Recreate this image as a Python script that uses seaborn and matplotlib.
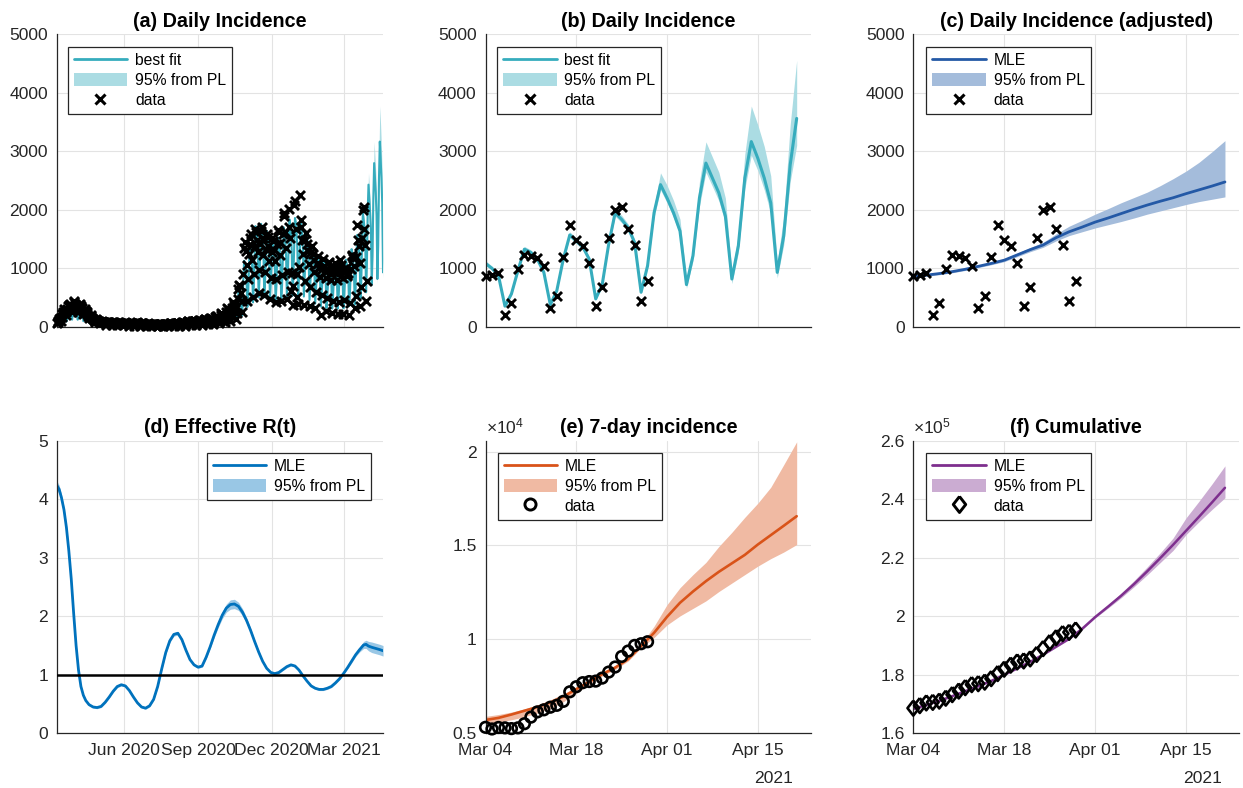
import numpy as np
import pandas as pd
import matplotlib
matplotlib.use("Agg")
import matplotlib.pyplot as plt
from matplotlib.lines import Line2D
from matplotlib.patches import Patch
from matplotlib.ticker import FuncFormatter
import seaborn as sns

# ------------------------------------------------------------------
# Daily reported cases, 10 Mar 2020 - 1 Mar 2021 (one row per week, Tue..Mon)
cases_weeks = [
    [60, 80, 110, 130, 150, 100, 170],
    [220, 260, 300, 280, 250, 200, 310],
    [350, 380, 400, 360, 320, 260, 330],
    [420, 440, 400, 380, 330, 250, 300],
    [380, 400, 360, 320, 280, 220, 240],
    [300, 280, 250, 220, 180, 150, 170],
    [200, 180, 160, 140, 120, 90, 110],
    [130, 120, 110, 100, 90, 60, 80],
    [100, 90, 85, 80, 70, 40, 60],
    [90, 85, 80, 75, 65, 35, 55],
    [85, 80, 75, 70, 60, 30, 50],
    [80, 75, 70, 70, 55, 30, 45],
    [75, 80, 70, 65, 55, 25, 45],
    [70, 75, 70, 60, 50, 25, 40],
    [70, 80, 75, 60, 50, 20, 40],
    [65, 70, 65, 55, 45, 20, 35],
    [55, 60, 55, 50, 40, 15, 30],
    [50, 55, 50, 45, 35, 10, 25],
    [45, 50, 50, 45, 35, 10, 25],
    [50, 55, 55, 50, 40, 15, 30],
    [60, 65, 60, 55, 45, 15, 35],
    [65, 75, 70, 65, 55, 20, 40],
    [75, 85, 80, 75, 60, 25, 45],
    [85, 100, 95, 85, 70, 30, 55],
    [95, 110, 105, 95, 80, 35, 60],
    [110, 125, 120, 105, 90, 40, 70],
    [120, 140, 135, 120, 100, 45, 80],
    [140, 160, 150, 135, 115, 50, 90],
    [170, 190, 180, 160, 140, 60, 110],
    [210, 240, 230, 200, 170, 80, 140],
    [260, 320, 300, 270, 220, 100, 180],
    [330, 420, 400, 360, 300, 140, 240],
    [480, 640, 720, 700, 580, 260, 450],
    [900, 1350, 1450, 1300, 1050, 450, 820],
    [1250, 1520, 1580, 1400, 1150, 520, 900],
    [1380, 1680, 1620, 1480, 1280, 580, 980],
    [1420, 1640, 1700, 1520, 1230, 540, 940],
    [1330, 1580, 1530, 1380, 1130, 480, 830],
    [1280, 1520, 1460, 1310, 1120, 420, 820],
    [1420, 1660, 1620, 1440, 1230, 440, 880],
    [1580, 1900, 1950, 1620, 1340, 480, 940],
    [1700, 2020, 1520, 620, 920, 380, 700],
    [2080, 2150, 1680, 520, 900, 400, 1030],
    [2250, 1820, 1700, 1480, 1250, 380, 780],
    [1480, 1600, 1420, 1300, 1080, 360, 690],
    [1280, 1380, 1240, 1140, 940, 320, 600],
    [1080, 1220, 1090, 1000, 860, 200, 540],
    [990, 1160, 1040, 950, 840, 270, 490],
    [980, 1110, 1030, 960, 800, 240, 440],
    [940, 1100, 1010, 940, 810, 230, 420],
    [960, 1150, 1060, 980, 830, 220, 460],
]
cases_mar_2_3 = [950, 1010]
# Daily reported cases, 4 - 29 Mar 2021 (calibration window)
cases_recent = [864, 893, 915, 198, 418, 994, 1226, 1215, 1169, 1034, 328, 525,
                1198, 1734, 1492, 1384, 1096, 350, 684, 1525, 2000, 2056, 1672,
                1395, 441, 785]

# Best-fit daily incidence, 10 Mar 2020 - 1 Mar 2021 (Tue..Mon rows)
fit_weeks = [
    [70, 95, 100, 100, 90, 40, 75],
    [170, 250, 260, 255, 215, 95, 160],
    [290, 400, 390, 360, 300, 125, 200],
    [320, 440, 420, 380, 300, 125, 195],
    [290, 390, 365, 325, 255, 100, 160],
    [225, 300, 275, 240, 185, 72, 112],
    [155, 205, 185, 160, 125, 48, 75],
    [105, 140, 128, 112, 88, 34, 54],
    [80, 105, 98, 88, 70, 28, 44],
    [70, 92, 86, 78, 62, 25, 39],
    [64, 85, 80, 72, 57, 23, 36],
    [60, 80, 76, 69, 55, 22, 35],
    [58, 78, 74, 67, 54, 22, 34],
    [57, 77, 73, 66, 53, 21, 34],
    [56, 76, 72, 65, 52, 21, 33],
    [53, 72, 68, 62, 50, 20, 31],
    [48, 66, 62, 56, 45, 18, 29],
    [44, 60, 57, 52, 41, 17, 27],
    [42, 58, 55, 50, 40, 16, 26],
    [44, 60, 57, 52, 41, 17, 27],
    [48, 65, 62, 56, 45, 18, 29],
    [54, 73, 70, 63, 51, 21, 33],
    [62, 84, 80, 73, 58, 24, 38],
    [72, 97, 93, 85, 68, 28, 44],
    [83, 112, 107, 98, 78, 32, 51],
    [95, 128, 122, 112, 89, 37, 58],
    [108, 146, 140, 128, 102, 42, 66],
    [124, 168, 161, 147, 117, 48, 76],
    [146, 198, 190, 173, 138, 57, 90],
    [176, 238, 228, 208, 166, 68, 108],
    [216, 292, 280, 256, 204, 84, 133],
    [275, 372, 357, 326, 260, 107, 169],
    [390, 600, 590, 540, 440, 190, 330],
    [780, 1130, 1100, 1010, 820, 340, 560],
    [1020, 1420, 1380, 1260, 1020, 420, 680],
    [1230, 1720, 1660, 1520, 1230, 505, 800],
    [1260, 1760, 1690, 1540, 1240, 505, 800],
    [1180, 1640, 1570, 1430, 1150, 470, 740],
    [1080, 1500, 1440, 1310, 1060, 430, 690],
    [1100, 1530, 1470, 1340, 1080, 445, 710],
    [1220, 1700, 1630, 1490, 1200, 495, 790],
    [1320, 1840, 1770, 1610, 1300, 535, 850],
    [1340, 1860, 1790, 1630, 1310, 540, 860],
    [1300, 1820, 1740, 1590, 1270, 520, 830],
    [1160, 1620, 1550, 1410, 1130, 460, 740],
    [1010, 1400, 1340, 1220, 980, 400, 640],
    [880, 1220, 1170, 1070, 860, 350, 560],
    [800, 1120, 1070, 980, 790, 325, 515],
    [780, 1090, 1040, 950, 765, 315, 500],
    [770, 1080, 1030, 940, 760, 312, 495],
    [790, 1110, 1060, 970, 780, 320, 510],
]
fit_mar_2_3 = [820, 1150]
# Best-fit daily incidence with 95% profile-likelihood band, 4 Mar - 21 Apr 2021
fit_recent = [1085, 1000, 876, 356, 565, 960, 1328, 1271, 1158, 932, 379, 621,
              1158, 1571, 1469, 1367, 1158, 480, 723, 1412, 1949, 1836, 1695,
              1441, 593, 1045, 1949, 2429, 2203, 1949, 1638, 723, 1215, 2203,
              2797, 2542, 2288, 1893, 819, 1384, 2542, 3164, 2881, 2542, 2118,
              932, 1554, 2768, 3559]
fit_recent_lo = [1050, 970, 850, 340, 545, 930, 1290, 1235, 1125, 905, 365, 600,
                 1120, 1525, 1425, 1325, 1120, 462, 700, 1370, 1890, 1780, 1640,
                 1395, 572, 1010, 1870, 2340, 2120, 1870, 1570, 660, 1130, 2060,
                 2640, 2400, 2150, 1770, 740, 1270, 2360, 2930, 2670, 2340, 1940,
                 840, 1400, 2480, 3100]
fit_recent_hi = [1130, 1040, 910, 375, 590, 995, 1375, 1315, 1200, 965, 395, 645,
                 1200, 1625, 1520, 1415, 1200, 500, 750, 1460, 2020, 1905, 1760,
                 1500, 618, 1090, 2060, 2630, 2420, 2160, 1840, 800, 1350, 2480,
                 3160, 2900, 2640, 2200, 930, 1590, 2950, 3770, 3450, 3080, 2580,
                 1110, 1880, 3450, 4550]

# Weekday-adjusted daily incidence (every second day from 4 Mar 2021)
adj_fit = [865, 885, 912, 945, 985, 1035, 1085, 1140, 1230, 1320, 1400, 1525,
           1625, 1705, 1790, 1860, 1935, 2010, 2080, 2145, 2205, 2275, 2340,
           2405, 2475]
adj_lo = [845, 865, 892, 925, 965, 1013, 1062, 1115, 1200, 1285, 1360, 1470,
          1560, 1625, 1690, 1745, 1800, 1860, 1925, 1980, 2035, 2090, 2140,
          2180, 2220]
adj_hi = [885, 905, 932, 965, 1005, 1057, 1108, 1165, 1260, 1355, 1445, 1590,
          1720, 1820, 1925, 2020, 2120, 2210, 2300, 2410, 2530, 2660, 2810,
          2990, 3180]

# Effective reproduction number: days after 10 Mar 2020, MLE and half-width of band
rt_day = [0, 3, 6, 9, 12, 15, 18, 21, 24, 27, 30, 33, 36, 40, 45, 50, 55, 60,
          65, 70, 75, 80, 85, 90, 95, 100, 105, 110, 115, 120, 125, 130, 135,
          140, 145, 150, 155, 160, 165, 170, 175, 180, 185, 190, 195, 200, 205,
          210, 215, 220, 225, 230, 235, 240, 245, 250, 255, 260, 265, 270, 275,
          280, 285, 290, 295, 300, 305, 310, 315, 320, 325, 330, 335, 340, 345,
          350, 355, 360, 365, 370, 375, 380, 383, 386, 390, 395, 400, 404]
rt_val = [4.24, 4.17, 4.02, 3.82, 3.52, 3.12, 2.64, 2.05, 1.50, 1.08, 0.80,
          0.65, 0.56, 0.49, 0.45, 0.44, 0.46, 0.53, 0.62, 0.72, 0.80, 0.83,
          0.81, 0.73, 0.62, 0.52, 0.45, 0.43, 0.47, 0.58, 0.80, 1.10, 1.38,
          1.58, 1.69, 1.71, 1.60, 1.42, 1.26, 1.17, 1.13, 1.15, 1.30, 1.48,
          1.68, 1.86, 2.02, 2.14, 2.20, 2.21, 2.17, 2.07, 1.93, 1.76, 1.57,
          1.39, 1.23, 1.11, 1.04, 1.02, 1.04, 1.09, 1.14, 1.17, 1.15, 1.08,
          0.98, 0.89, 0.81, 0.77, 0.75, 0.75, 0.77, 0.80, 0.86, 0.93, 1.02,
          1.12, 1.23, 1.34, 1.43, 1.51, 1.52, 1.49, 1.47, 1.45, 1.43, 1.41]
rt_hw = [0.08, 0.07, 0.06, 0.05, 0.05, 0.05, 0.05, 0.05, 0.04, 0.03, 0.02,
         0.02, 0.02, 0.02, 0.02, 0.02, 0.02, 0.02, 0.02, 0.02, 0.02, 0.02,
         0.02, 0.02, 0.02, 0.02, 0.02, 0.02, 0.02, 0.02, 0.02, 0.02, 0.03,
         0.03, 0.03, 0.03, 0.03, 0.03, 0.02, 0.02, 0.02, 0.02, 0.03, 0.03,
         0.04, 0.05, 0.06, 0.07, 0.08, 0.08, 0.07, 0.06, 0.05, 0.04, 0.03,
         0.03, 0.02, 0.02, 0.02, 0.02, 0.02, 0.02, 0.02, 0.02, 0.02, 0.02,
         0.02, 0.02, 0.02, 0.02, 0.02, 0.02, 0.02, 0.02, 0.02, 0.02, 0.02,
         0.02, 0.03, 0.03, 0.04, 0.06, 0.07, 0.08, 0.09, 0.09, 0.09, 0.09]

# 7-day incidence: data (4 - 29 Mar 2021) and MLE / band every second day
inc7_data = [5319, 5230, 5310, 5290, 5250, 5290, 5510, 5860, 6140, 6250, 6390,
             6490, 6700, 7210, 7480, 7695, 7755, 7780, 7940, 8260, 8530, 9090,
             9380, 9680, 9770, 9875]
inc7_fit = [5710, 5820, 6000, 6200, 6400, 6640, 6950, 7350, 7750, 8150, 8500,
            8950, 9650, 10350, 11200, 11950, 12550, 13100, 13600, 14050, 14500,
            15050, 15550, 16050, 16560]
inc7_lo = [5500, 5600, 5720, 5880, 6080, 6320, 6680, 7150, 7600, 8050, 8400,
           8850, 9550, 10100, 10770, 11250, 11650, 12050, 12550, 13000, 13450,
           13900, 14300, 14650, 15050]
inc7_hi = [5900, 6000, 6130, 6300, 6500, 6780, 7100, 7450, 7850, 8250, 8600,
           9050, 9750, 10700, 11850, 12750, 13450, 14100, 14950, 15700, 16500,
           17250, 18100, 19300, 20520]

# Cumulative cases: data (4 - 29 Mar 2021) and MLE / band every second day
cum_data = [168600, 169490, 170410, 170610, 171030, 172020, 173250, 174460,
            175630, 176660, 176990, 177520, 178720, 180450, 181940, 183330,
            184420, 184770, 185460, 186980, 188980, 191040, 192710, 194100,
            194540, 195330]
cum_fit = [168300, 169700, 171100, 172700, 174400, 176100, 177900, 180000,
           182200, 184400, 186900, 189600, 192300, 195700, 199700, 203300,
           207000, 211000, 215300, 219800, 224400, 229200, 234000, 238900,
           243900]
cum_lo = [168000, 169400, 170800, 172400, 174100, 175800, 177600, 179700,
          181900, 184100, 186600, 189300, 192000, 195400, 199400, 202800,
          206300, 210100, 214100, 218300, 222500, 227900, 232300, 236500,
          240500]
cum_hi = [168600, 170000, 171400, 173000, 174700, 176400, 178200, 180300,
          182500, 184700, 187200, 189900, 192600, 196000, 200100, 203900,
          207900, 212200, 216800, 221600, 226700, 233600, 239300, 245200,
          251400]

long_tick_dates = ["2020-06-01", "2020-09-01", "2020-12-01", "2021-03-01"]
long_tick_labels = ["Jun 2020", "Sep 2020", "Dec 2020", "Mar 2021"]
short_tick_dates = ["2021-03-04", "2021-03-18", "2021-04-01", "2021-04-15"]
short_tick_labels = ["Mar 04", "Mar 18", "Apr 01", "Apr 15"]

# ------------------------------------------------------------------
sns.set_theme(style="white")
plt.rcParams["font.family"] = ["Liberation Sans", "DejaVu Sans"]
plt.rcParams["mathtext.fontset"] = "custom"
plt.rcParams["mathtext.rm"] = "Liberation Sans"
plt.rcParams["mathtext.it"] = "Liberation Sans:italic"
plt.rcParams["mathtext.bf"] = "Liberation Sans:bold"

TEAL, TEAL_BAND = "#36ACBD", "#ABDCE3"
NAVY, NAVY_BAND = "#2459A6", "#A4BCDB"
BLUE, BLUE_BAND = "#0072BD", "#99C7E5"
ORANGE, ORANGE_BAND = "#D95319", "#F0BAA3"
PURPLE, PURPLE_BAND = "#7E2F8E", "#CBACD2"
INK = "#262626"
TICK_FS, TITLE_FS, LEG_FS = 12.6, 14.2, 11.3

cases_all = np.concatenate([np.ravel(cases_weeks), cases_mar_2_3, cases_recent])
fit_all = np.concatenate([np.ravel(fit_weeks), fit_mar_2_3, fit_recent])
t0 = pd.Timestamp("2020-03-10")
case_dates = pd.date_range(t0, periods=len(cases_all), freq="D")
fit_dates = pd.date_range(t0, periods=len(fit_all), freq="D")
recent_dates = pd.date_range("2021-03-04", periods=len(cases_recent), freq="D")
fc_dates = pd.date_range("2021-03-04", periods=len(fit_recent), freq="D")
even_dates = pd.date_range("2021-03-04", periods=len(adj_fit), freq="2D")
rt_dates = t0 + pd.to_timedelta(rt_day, unit="D")
rt_val = np.asarray(rt_val)
rt_hw = np.asarray(rt_hw)

long_xlim = (pd.Timestamp("2020-03-10"), pd.Timestamp("2021-04-18 08:00"))
short_xlim = (pd.Timestamp("2021-03-04"), pd.Timestamp("2021-04-23 05:00"))

diamond = [(0, 1), (0.78, 0), (0, -1), (-0.78, 0), (0, 1)]

fig = plt.figure(figsize=(12.43, 7.88), dpi=100)
FW, FH = 1243.0, 788.0


def px_axes(left, top, width, height):
    return fig.add_axes([left / FW, 1 - (top + height) / FH, width / FW, height / FH])


def style_axes(ax):
    ax.set_facecolor("white")
    for s in ("top", "right"):
        ax.spines[s].set_visible(False)
    for s in ("left", "bottom"):
        ax.spines[s].set_color(INK)
        ax.spines[s].set_linewidth(0.9)
    ax.grid(True, color="#E3E3E3", linewidth=0.8)
    ax.set_axisbelow(True)
    ax.tick_params(axis="both", direction="in", length=4, width=0.8,
                   color=INK, labelcolor=INK, labelsize=TICK_FS)
    ax.tick_params(axis="y", pad=6.3)
    ax.tick_params(axis="x", pad=7)
    ax.set_xlabel("")
    ax.set_ylabel("")


def set_dates(ax, ticks, labels, xlim, show):
    ax.set_xlim(*xlim)
    ax.set_xticks(pd.to_datetime(ticks))
    ax.set_xticklabels(labels if show else [""] * len(ticks))


def legend(ax, handles, labels, anchor, loc):
    leg = ax.legend(handles, labels, loc=loc, bbox_to_anchor=anchor,
                    frameon=True, fancybox=False, framealpha=1,
                    edgecolor=INK, fontsize=LEG_FS, borderpad=0.38,
                    labelspacing=0.3, handlelength=3.4, handletextpad=0.5,
                    handleheight=0.95, borderaxespad=0)
    leg.get_frame().set_linewidth(0.9)
    for t in leg.get_texts():
        t.set_color("black")
    return leg


def title(ax, text):
    ax.set_title(text, fontsize=TITLE_FS, fontweight="bold", pad=5.3, color="black")


def cross_handle():
    return Line2D([], [], marker="x", ls="none", color="black", ms=7, mew=2.2)


CROSS = dict(marker="x", color="black", s=42, linewidth=2.1, zorder=3, clip_on=False)

# ---------------- (a) full period, daily incidence ----------------
ax = px_axes(56.7, 34, 326.6, 293)
ax.fill_between(fc_dates, fit_recent_lo, fit_recent_hi, color=TEAL_BAND, lw=0, zorder=1)
sns.lineplot(x=fit_dates, y=fit_all, ax=ax, color=TEAL, linewidth=1.5, zorder=2)
sns.scatterplot(x=case_dates, y=cases_all, ax=ax, **CROSS)
ax.set_ylim(0, 5000)
ax.set_yticks([0, 1000, 2000, 3000, 4000, 5000])
set_dates(ax, long_tick_dates, long_tick_labels, long_xlim, False)
style_axes(ax)
title(ax, "(a) Daily Incidence")
legend(ax, [Line2D([], [], color=TEAL, lw=2), Patch(color=TEAL_BAND, lw=0), cross_handle()],
       ["best fit", "95% from PL", "data"], (0.034, 0.956), "upper left")

# ---------------- (b) calibration + forecast, daily incidence ----------------
ax = px_axes(485.5, 34, 325.5, 293)
ax.fill_between(fc_dates, fit_recent_lo, fit_recent_hi, color=TEAL_BAND, lw=0, zorder=1)
sns.lineplot(x=fc_dates, y=fit_recent, ax=ax, color=TEAL, linewidth=2.2, zorder=2)
sns.scatterplot(x=recent_dates, y=cases_recent, ax=ax, **CROSS)
ax.set_ylim(0, 5000)
ax.set_yticks([0, 1000, 2000, 3000, 4000, 5000])
set_dates(ax, short_tick_dates, short_tick_labels, short_xlim, False)
style_axes(ax)
title(ax, "(b) Daily Incidence")
legend(ax, [Line2D([], [], color=TEAL, lw=2), Patch(color=TEAL_BAND, lw=0), cross_handle()],
       ["best fit", "95% from PL", "data"], (0.036, 0.956), "upper left")

# ---------------- (c) weekday-adjusted incidence ----------------
ax = px_axes(913.3, 34, 326, 293)
ax.fill_between(even_dates, adj_lo, adj_hi, color=NAVY_BAND, lw=0, zorder=1)
sns.lineplot(x=even_dates, y=adj_fit, ax=ax, color=NAVY, linewidth=2.0, zorder=2)
sns.scatterplot(x=recent_dates, y=cases_recent, ax=ax, **CROSS)
ax.set_ylim(0, 5000)
ax.set_yticks([0, 1000, 2000, 3000, 4000, 5000])
set_dates(ax, short_tick_dates, short_tick_labels, short_xlim, False)
style_axes(ax)
title(ax, "(c) Daily Incidence (adjusted)")
legend(ax, [Line2D([], [], color=NAVY, lw=2), Patch(color=NAVY_BAND, lw=0), cross_handle()],
       ["MLE", "95% from PL", "data"], (0.04, 0.956), "upper left")

# ---------------- (d) effective reproduction number ----------------
ax = px_axes(56.7, 440.7, 326.6, 292.6)
ax.fill_between(rt_dates, rt_val - rt_hw, rt_val + rt_hw, color=BLUE_BAND, lw=0, zorder=1)
sns.lineplot(x=rt_dates, y=rt_val, ax=ax, color=BLUE, linewidth=2.0, zorder=2)
ax.axhline(1, color="black", linewidth=1.8, zorder=4)
ax.set_ylim(0, 5)
ax.set_yticks([0, 1, 2, 3, 4, 5])
set_dates(ax, long_tick_dates, long_tick_labels, long_xlim, True)
style_axes(ax)
title(ax, "(d) Effective R(t)")
legend(ax, [Line2D([], [], color=BLUE, lw=2), Patch(color=BLUE_BAND, lw=0)],
       ["MLE", "95% from PL"], (0.963, 0.959), "upper right")

# ---------------- (e) 7-day incidence ----------------
ax = px_axes(485.5, 440.7, 325.5, 292.6)
ax.fill_between(even_dates, inc7_lo, inc7_hi, color=ORANGE_BAND, lw=0, zorder=1)
sns.lineplot(x=even_dates, y=inc7_fit, ax=ax, color=ORANGE, linewidth=1.9, zorder=2)
sns.scatterplot(x=recent_dates, y=inc7_data, ax=ax, marker="o", s=58,
                facecolor="none", edgecolor="black", color="black",
                linewidth=1.9, zorder=3, clip_on=False)
ax.set_ylim(5000, 20580)
ax.set_yticks([5000, 10000, 15000, 20000])
ax.yaxis.set_major_formatter(FuncFormatter(lambda v, p: f"{v / 1e4:g}"))
set_dates(ax, short_tick_dates, short_tick_labels, short_xlim, True)
style_axes(ax)
title(ax, "(e) 7-day incidence")
ax.text(0.0, 1.013, r"$\times10^{4}$", transform=ax.transAxes, ha="left",
        va="bottom", fontsize=TICK_FS, color=INK)
ax.text(0.945, -0.170, "2021", transform=ax.transAxes, ha="right",
        va="baseline", fontsize=TICK_FS, color=INK)
legend(ax, [Line2D([], [], color=ORANGE, lw=2), Patch(color=ORANGE_BAND, lw=0),
            Line2D([], [], marker="o", ls="none", mfc="none", mec="black", ms=8, mew=2.1)],
       ["MLE", "95% from PL", "data"], (0.037, 0.959), "upper left")

# ---------------- (f) cumulative cases ----------------
ax = px_axes(913.3, 440.7, 326, 292.6)
ax.fill_between(even_dates, cum_lo, cum_hi, color=PURPLE_BAND, lw=0, zorder=1)
sns.lineplot(x=even_dates, y=cum_fit, ax=ax, color=PURPLE, linewidth=1.8, zorder=2)
sns.scatterplot(x=recent_dates, y=cum_data, ax=ax, marker=diamond, s=115,
                facecolor="none", edgecolor="black", color="black",
                linewidth=1.9, zorder=3, clip_on=False)
ax.set_ylim(160000, 260000)
ax.set_yticks([160000, 180000, 200000, 220000, 240000, 260000])
ax.yaxis.set_major_formatter(FuncFormatter(lambda v, p: f"{v / 1e5:g}"))
set_dates(ax, short_tick_dates, short_tick_labels, short_xlim, True)
style_axes(ax)
title(ax, "(f) Cumulative")
ax.text(0.0, 1.013, r"$\times10^{5}$", transform=ax.transAxes, ha="left",
        va="bottom", fontsize=TICK_FS, color=INK)
ax.text(0.948, -0.170, "2021", transform=ax.transAxes, ha="right",
        va="baseline", fontsize=TICK_FS, color=INK)
legend(ax, [Line2D([], [], color=PURPLE, lw=2), Patch(color=PURPLE_BAND, lw=0),
            Line2D([], [], marker=diamond, ls="none", mfc="none", mec="black", ms=11.5, mew=2.1)],
       ["MLE", "95% from PL", "data"], (0.04, 0.959), "upper left")

fig.savefig("out.png", dpi=100, facecolor="white")
